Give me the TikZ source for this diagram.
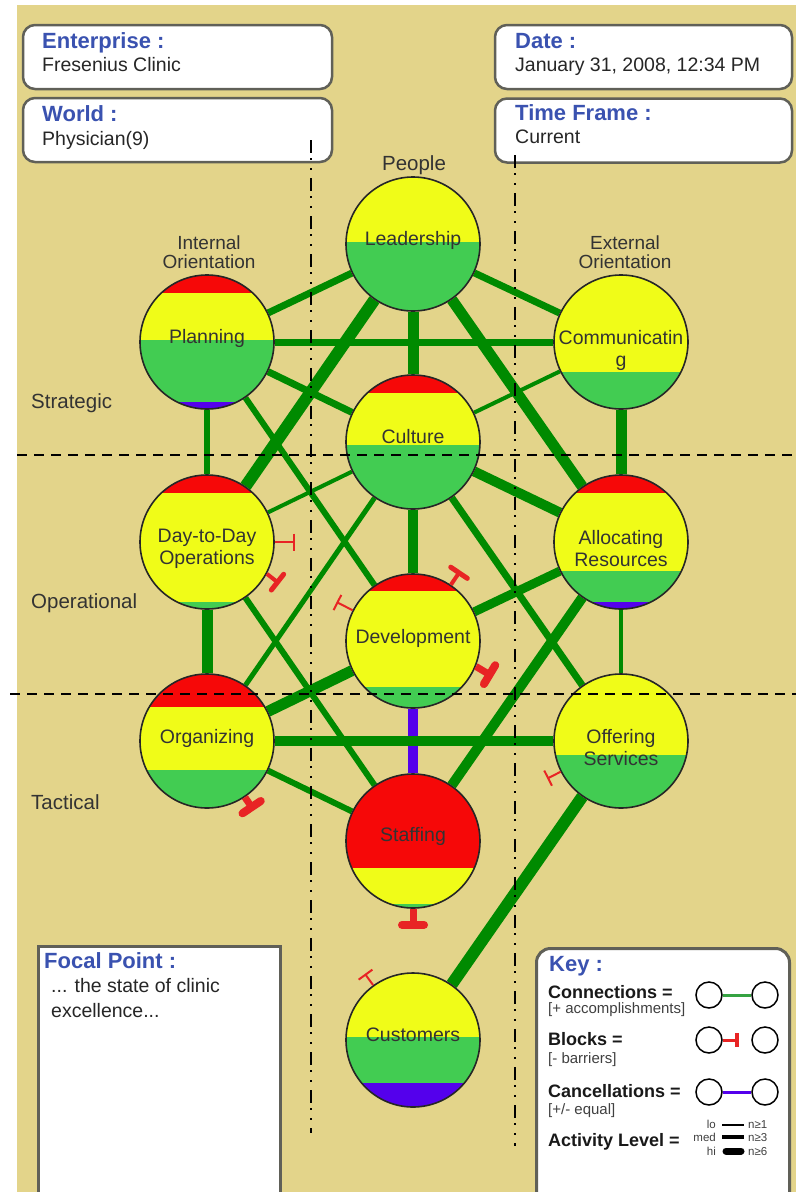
\documentclass[tikz,border=0pt]{standalone}
\usepackage{fontspec}
\setmainfont{Liberation Sans}
\usetikzlibrary{arrows.meta}
\definecolor{sandbg}{RGB}{227,212,138}
\definecolor{orbred}{RGB}{246,8,8}
\definecolor{orbyellow}{RGB}{240,252,24}
\definecolor{orbgreen}{RGB}{66,204,82}
\definecolor{orbblue}{RGB}{84,0,236}
\definecolor{linkgreen}{RGB}{0,138,0}
\definecolor{blockred}{RGB}{232,36,36}
\definecolor{titleblue}{RGB}{58,82,176}
\definecolor{boxgray}{RGB}{96,96,88}
\pgfdeclarelayer{back}
\pgfdeclarelayer{bands}
\pgfdeclarelayer{front}
\pgfsetlayers{back,bands,main,front}
\tikzset{
  orb/.style={
    circle,
    draw=black!85,
    line width=1.6pt,
    minimum size=134pt,
    inner sep=0pt
  },
  orbtext/.style={
    inner sep=0pt,
    align=center,
    text=black!80,
    font=\fontsize{19.5}{22}\selectfont
  },
  infobox/.style={
    draw=boxgray,
    line width=2.5pt,
    fill=white,
    rounded corners=12pt,
    minimum height=64pt
  },
  boxtitle/.style={inner sep=0pt,text=titleblue,font=\fontsize{22}{24}\selectfont\bfseries},
  boxtext/.style={inner sep=0pt,text=black!85,font=\fontsize{19.5}{22}\selectfont},
  axislabel/.style={inner sep=0pt,text=black!80,font=\fontsize{20.5}{22}\selectfont},
  sidelabel/.style={inner sep=0pt,text=black!80,font=\fontsize{19}{20}\selectfont},
  link/.style={linkgreen,line width=#1},
  cancel/.style={orbblue,line width=#1},
  blocklo/.style={blockred,line width=2pt,-{Bar[width=17pt,line width=2pt]}},
  blockmed/.style={blockred,line width=4pt,-{Bar[width=20pt,line width=5pt,round]}},
  blockhi/.style={blockred,line width=7pt,-{Bar[width=22pt,line width=8pt,round]}},
  keyorb/.style={circle,draw=black,line width=1.5pt,minimum size=26pt,inner sep=0pt},
  keytitle/.style={inner sep=0pt,text=black!90,font=\fontsize{18}{20}\selectfont\bfseries},
  keynote/.style={inner sep=0pt,text=black!75,font=\fontsize{15}{17}\selectfont},
  levelnote/.style={inner sep=0pt,text=black!75,font=\fontsize{11.5}{12}\selectfont},
  split/.style={black,line width=2pt,dash pattern=on 10pt off 7pt},
  column/.style={black,line width=2pt,dash pattern=on 13pt off 5pt on 2pt off 8pt on 2pt off 8pt}
}
% colour bands of one circle, given as colour/top/bottom
\newcommand{\orbbands}[2]{%
  \begin{pgfonlayer}{bands}
    \begin{scope}
      \clip (#1) circle[radius=67pt];
      \foreach \c/\t/\b in {#2}
        \fill[\c] (#1.west |- 0,\t) rectangle (#1.east |- 0,\b);
    \end{scope}
  \end{pgfonlayer}}

\begin{document}
\begin{tikzpicture}[x=1pt,y=-1pt]
\useasboundingbox (0,0) rectangle (796,1192);
\begin{pgfonlayer}{back}
\fill[sandbg] (17,5) rectangle (796,1192);
\end{pgfonlayer}

% header boxes
\node[infobox,minimum width=309pt] (ent) at (177.5,57) {};
\node[infobox,minimum width=309pt] (world) at (177.5,130) {};
\node[infobox,minimum width=297pt] (date) at (643.5,57) {};
\node[infobox,minimum width=297pt] (frame) at (643.5,130.5) {};
\node[boxtitle,anchor=base west] (entT) at (42,48) {Enterprise :};
\node[boxtext,anchor=base west] (entV) at (42,71) {Fresenius Clinic};
\node[boxtitle,anchor=base west] (worldT) at (42,121) {World :};
\node[boxtext,anchor=base west] (worldV) at (42,145) {Physician(9)};
\node[boxtitle,anchor=base west] (dateT) at (515,48) {Date :};
\node[boxtext,anchor=base west] (dateV) at (515,71) {January 31, 2008, 12:34 PM};
\node[boxtitle,anchor=base west] (frameT) at (515,120) {Time Frame :};
\node[boxtext,anchor=base west] (frameV) at (515,143) {Current};

% axis labels
\node[axislabel,anchor=base] (people) at (414,170) {People};
\node[sidelabel,anchor=base] (innerA) at (209,249) {Internal};
\node[sidelabel,anchor=base] (innerB) at (209,268) {Orientation};
\node[sidelabel,anchor=base] (outerA) at (625,249) {External};
\node[sidelabel,anchor=base] (outerB) at (625,268) {Orientation};
\node[axislabel,anchor=west] (strat) at (31,403) {Strategic};
\node[axislabel,anchor=west] (oper) at (31,603) {Operational};
\node[axislabel,anchor=west] (tact) at (31,802) {Tactical};

% circles
\node[orb] (lead) at (413,244) {};
\node[orb] (plan) at (207,342) {};
\node[orb] (comm) at (621,342) {};
\node[orb] (cult) at (413,442) {};
\node[orb] (dtd) at (207,542) {};
\node[orb] (alloc) at (621,542) {};
\node[orb] (dev) at (413,641) {};
\node[orb] (org) at (207,741) {};
\node[orb] (offer) at (621,741) {};
\node[orb] (staff) at (413,841) {};
\node[orb] (cust) at (413,1040) {};
\node[orbtext] (leadL) at (413,240) {Leadership};
\node[orbtext] (planL) at (207,338) {Planning};
\node[orbtext] (commL) at (621,350) {Communicatin\\g};
\node[orbtext] (cultL) at (413,437) {Culture};
\node[orbtext] (dtdL) at (207,549) {Day-to-Day\\Operations};
\node[orbtext] (allocL) at (621,549) {Allocating\\Resources};
\node[orbtext] (devL) at (413,638) {Development};
\node[orbtext] (orgL) at (207,738) {Organizing};
\node[orbtext] (offerL) at (621,748) {Offering\\Services};
\node[orbtext] (staffL) at (413,836) {Staffing};
\node[orbtext] (custL) at (413,1035) {Customers};

\orbbands{lead}{orbyellow/170/242,orbgreen/242/315}
\orbbands{plan}{orbred/270/293,orbyellow/293/340,orbgreen/340/402,orbblue/402/415}
\orbbands{comm}{orbyellow/270/372,orbgreen/372/415}
\orbbands{cult}{orbred/370/393,orbyellow/393/445,orbgreen/445/515}
\orbbands{dtd}{orbred/470/493,orbyellow/493/602,orbgreen/602/615}
\orbbands{alloc}{orbred/470/493,orbyellow/493/571,orbgreen/571/602,orbblue/602/615}
\orbbands{dev}{orbred/570/591,orbyellow/591/687,orbgreen/687/715}
\orbbands{org}{orbred/670/707,orbyellow/707/770,orbgreen/770/815}
\orbbands{offer}{orbyellow/670/755,orbgreen/755/815}
\orbbands{staff}{orbred/770/868,orbyellow/868/904,orbgreen/904/915}
\orbbands{cust}{orbyellow/970/1037,orbgreen/1037/1083,orbblue/1083/1115}

% connections
\begin{pgfonlayer}{back}
\draw[link=7pt] (lead) -- (plan);
\draw[link=7pt] (lead) -- (comm);
\draw[link=11pt] (lead) -- (cult);
\draw[link=12pt] (lead) -- (dtd);
\draw[link=11pt] (lead) -- (alloc);
\draw[link=7pt] (plan) -- (comm);
\draw[link=7pt] (plan) -- (cult);
\draw[link=6pt] (plan) -- (dtd);
\draw[link=6pt] (plan) -- (dev);
\draw[link=4pt] (comm) -- (cult);
\draw[link=11pt] (comm) -- (alloc);
\draw[link=4pt] (cult) -- (dtd);
\draw[link=10pt] (cult) -- (dev);
\draw[link=10pt] (cult) -- (alloc);
\draw[link=7pt] (cult) -- (offer);
\draw[link=5pt] (cult) -- (org);
\draw[link=11pt] (dtd) -- (org);
\draw[link=6pt] (dtd) -- (staff);
\draw[link=11pt] (dev) -- (org);
\draw[link=9pt] (dev) -- (alloc);
\draw[cancel=10pt] (dev) -- (staff);
\draw[link=10pt] (org) -- (offer);
\draw[link=6pt] (org) -- (staff);
\draw[link=10pt] (staff) -- (alloc);
\draw[link=4pt] (alloc) -- (offer);
\draw[link=12pt] (offer) -- (cust);
\end{pgfonlayer}

% blocks
\draw[blocklo] (dtd.0) -- ++(0:20pt);
\draw[blockmed] (dtd.332) -- ++(322:16pt);
\draw[blockmed] (dev.56) -- ++(56:17pt);
\draw[blocklo] (dev.153) -- ++(153:18pt);
\draw[blockhi] (dev.338) -- ++(329:20pt);
\draw[blockhi] (org.304) -- ++(304:16pt);
\draw[blockhi] (staff.270) -- ++(270:20pt);
\draw[blocklo] (offer.207) -- ++(207:15pt);
\draw[blocklo] (cust.126) -- ++(126:14pt);

% focal point
\node[draw=boxgray,line width=3pt,fill=white,minimum width=242pt,minimum height=260pt,anchor=north west] (focal) at (37,945) {};
\node[boxtitle,anchor=base west] (focalT) at (44,968) {Focal Point :};
\node[boxtext,anchor=base west] (focalV) at (51,992) {... the state of clinic};
\node[boxtext,anchor=base west] (focalW) at (51,1017) {excellence...};

% key
\node[draw=boxgray,line width=3pt,fill=white,rounded corners=14pt,minimum width=253pt,minimum height=260pt,anchor=north west] (key) at (535,947) {};
\node[boxtitle,anchor=base west] (keyT) at (549,971) {Key :};
\node[keytitle,anchor=base west] (connT) at (548,998) {Connections =};
\node[keynote,anchor=base west] (connN) at (548,1013) {[+ accomplishments]};
\node[keytitle,anchor=base west] (blockT) at (548,1045) {Blocks =};
\node[keynote,anchor=base west] (blockN) at (548,1063) {[- barriers]};
\node[keytitle,anchor=base west] (cancT) at (548,1097) {Cancellations =};
\node[keynote,anchor=base west] (cancN) at (548,1114) {[+/- equal]};
\node[keytitle,anchor=base west] (actT) at (548,1146) {Activity Level =};
\node[keyorb] (kc1) at (709,995) {};
\node[keyorb] (kc2) at (765,995) {};
\node[keyorb] (kb1) at (709,1040) {};
\node[keyorb] (kb2) at (765,1040) {};
\node[keyorb] (kx1) at (709,1092) {};
\node[keyorb] (kx2) at (765,1092) {};
\draw[orbgreen!80!black,line width=3pt] (kc1) -- (kc2);
\draw[blockred,line width=3pt,-{Bar[width=14pt,line width=4pt]}] (kb1.east) -- ++(0:16pt);
\draw[cancel=3pt] (kx1) -- (kx2);
\node[levelnote,anchor=base east] (lo) at (716,1128) {lo};
\node[levelnote,anchor=base east] (med) at (716,1141) {med};
\node[levelnote,anchor=base east] (hi) at (716,1155) {hi};
\draw[line width=2pt] (722,1125) -- (744,1125);
\draw[line width=4pt] (722,1137) -- (744,1137);
\draw[line width=7pt,line cap=round] (726,1151) -- (741,1151);
\node[levelnote,anchor=base west] (n1) at (748,1128) {n≥1};
\node[levelnote,anchor=base west] (n3) at (748,1141) {n≥3};
\node[levelnote,anchor=base west] (n6) at (748,1155) {n≥6};

% quadrant lines
\begin{pgfonlayer}{front}
\draw[split] (17,455) -- (796,455);
\draw[split] (10,694) -- (796,694);
\draw[column] (311,140) -- (311,1133);
\draw[column] (515,155) -- (515,1146);
\end{pgfonlayer}
\end{tikzpicture}
\end{document}
